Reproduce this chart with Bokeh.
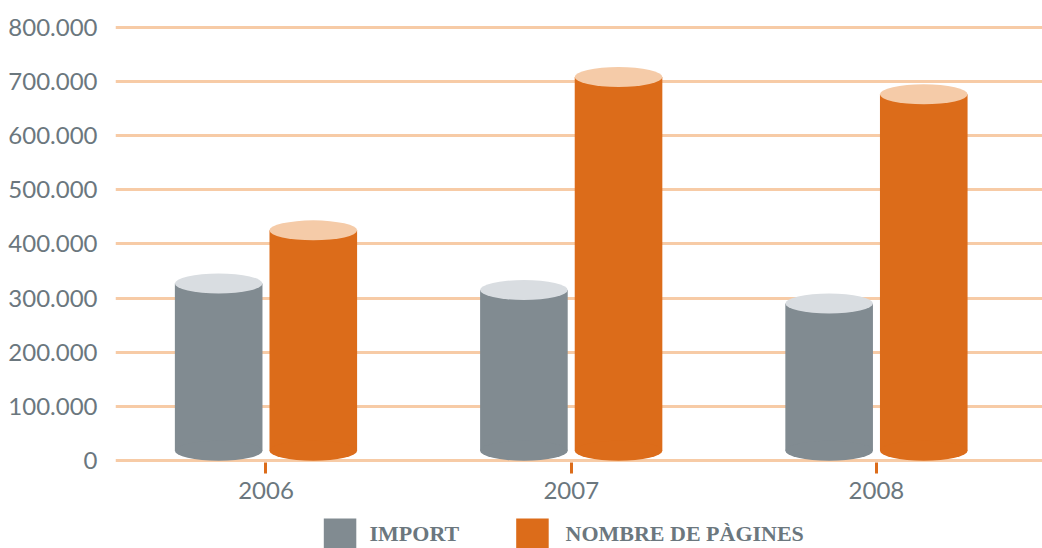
from bokeh.plotting import figure
from bokeh.models import Range1d, FixedTicker, ColumnDataSource
from bokeh.layouts import column
from bokeh.core.properties import value
from bokeh.embed import file_html
from bokeh.resources import INLINE

# ---- data ----
years = ["2006", "2007", "2008"]
series_names = ["IMPORT", "NOMBRE DE PÀGINES"]
import_vals = [327000, 315000, 290000]
pagines_vals = [425000, 708000, 676000]
y_ticks = [0, 100000, 200000, 300000, 400000, 500000, 600000, 700000, 800000]
y_tick_labels = ["0", "100.000", "200.000", "300.000", "400.000",
                 "500.000", "600.000", "700.000", "800.000"]

# ---- style ----
GRAY = "#818b91"
GRAY_TOP = "#d9dde1"
ORANGE = "#dc6c1a"
ORANGE_TOP = "#f5cba8"
GRID = "#f7cba6"
TEXT = "#6b777e"
FONT = "Lato"

W = 1042
MAIN_H = 513
LEFT = 115
FRAME_TOP = 20
FRAME_H = 442
Y_START, Y_END = -3300, 812200
X_START, X_END = -0.493, 2.544
BAR_W = 0.287
OFFSET = 0.155
ELL_H = 20  # px

p = figure(width=W, height=MAIN_H, output_backend="svg", toolbar_location=None,
           x_range=Range1d(X_START, X_END), y_range=Range1d(Y_START, Y_END),
           min_border_left=LEFT, min_border_right=0, min_border_top=FRAME_TOP,
           min_border_bottom=MAIN_H - FRAME_TOP - FRAME_H)
p.outline_line_color = None
p.background_fill_color = "white"
p.xgrid.grid_line_color = None
p.ygrid.grid_line_color = GRID
p.ygrid.grid_line_width = 3
p.ygrid.ticker = FixedTicker(ticks=y_ticks)

p.yaxis.ticker = FixedTicker(ticks=y_ticks)
p.yaxis.major_label_overrides = {t: l for t, l in zip(y_ticks, y_tick_labels)}
p.yaxis.axis_line_color = None
p.yaxis.major_tick_line_color = None
p.yaxis.minor_tick_line_color = None
p.yaxis.major_label_standoff = 12
p.yaxis.major_label_text_font = FONT
p.yaxis.major_label_text_font_size = "24px"
p.yaxis.major_label_text_color = TEXT

xs = list(range(len(years)))
p.xaxis.ticker = FixedTicker(ticks=xs)
p.xaxis.major_label_overrides = {i: y for i, y in zip(xs, years)}
p.xaxis.axis_line_color = None
p.xaxis.minor_tick_line_color = None
p.xaxis.major_tick_line_color = ORANGE
p.xaxis.major_tick_line_width = 3
p.xaxis.major_tick_out = 11
p.xaxis.major_tick_in = 0
p.xaxis.major_label_standoff = 8
p.xaxis.major_label_text_font = FONT
p.xaxis.major_label_text_font_size = "24px"
p.xaxis.major_label_text_color = TEXT

px_per_unit = FRAME_H / (Y_END - Y_START)
base = (ELL_H / 2) / px_per_unit

for vals, off, body, top in [(import_vals, -OFFSET, GRAY, GRAY_TOP),
                             (pagines_vals, OFFSET, ORANGE, ORANGE_TOP)]:
    src = ColumnDataSource(dict(x=[x + off for x in xs], top=vals,
                                bottom=[base] * len(vals)))
    p.vbar(x="x", top="top", bottom="bottom", width=BAR_W, source=src,
           fill_color=body, line_color=None)
    p.ellipse(x="x", y="bottom", width=BAR_W, height=ELL_H, height_units="screen",
              source=src, fill_color=body, line_color=None)
    p.ellipse(x="x", y="top", width=BAR_W, height=ELL_H, height_units="screen",
              source=src, fill_color=top, line_color=None)

# ---- legend (own strip, same frame as the chart so x = page px) ----
LEG_H = W and 35
leg = figure(width=W, height=LEG_H, output_backend="svg", toolbar_location=None,
             x_range=Range1d(LEFT, W), y_range=Range1d(0, LEG_H),
             min_border_left=LEFT, min_border_right=0, min_border_top=0,
             min_border_bottom=0)
leg.axis.visible = False
leg.grid.visible = False
leg.outline_line_color = None

sq_left = [323.3, 515.7]
sq_w = 32.5
txt_x = [369, 565]
leg.quad(left=sq_left, right=[l + sq_w for l in sq_left], bottom=[0, 0], top=[30, 30],
         fill_color=[GRAY, ORANGE], line_color=None)
leg.text(x=txt_x, y=[15, 15], text=series_names, text_font=value("Liberation Serif"),
         text_font_style="bold", text_font_size="22px", text_color=TEXT,
         text_baseline="middle", text_align="left")

layout = column(p, leg, spacing=0)
open("out.html", "w").write(file_html(layout, INLINE))
